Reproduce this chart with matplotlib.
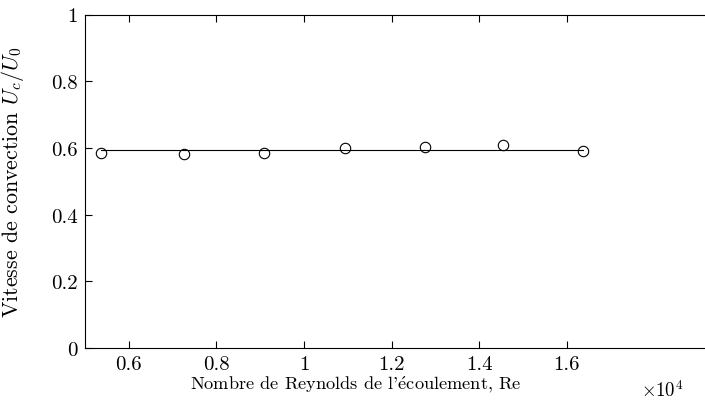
#vitesse de convection en fonction du nombre de Reynolds
import matplotlib
matplotlib.use("Agg")
import matplotlib.pyplot as plt
from matplotlib.ticker import FuncFormatter

plt.rcParams['font.family'] = ['cmr10', 'DejaVu Serif']
plt.rcParams['mathtext.fontset'] = 'cm'
plt.rcParams['axes.unicode_minus'] = False

# Reynolds (x 1e4) et vitesse de convection Uc/U0
reynolds = [0.536, 0.726, 0.909, 1.093, 1.277, 1.454, 1.637]
uc_u0 = [0.584, 0.581, 0.585, 0.601, 0.603, 0.609, 0.590]
uc_mean = sum(uc_u0) / len(uc_u0)

xticks = [0.6, 0.8, 1.0, 1.2, 1.4, 1.6]
yticks = [0, 0.2, 0.4, 0.6, 0.8, 1.0]


def fmt(v, pos):
    return "%g" % round(v, 3)


fig = plt.figure(figsize=(7.05, 4.02), dpi=100)
ax = fig.add_axes([0.1206, 0.1318, 0.885, 0.8296])

# ligne moyenne + mesures
ax.plot([reynolds[0], reynolds[-1]], [uc_mean, uc_mean], color='black', lw=0.8)
ax.plot(reynolds, uc_u0, 'o', mfc='none', mec='black', ms=7.5, mew=0.8)

ax.set_xlim(0.5, 0.5 + 624 / 438)
ax.set_ylim(0, 1)
ax.set_xticks(xticks)
ax.set_yticks(yticks)
ax.xaxis.set_major_formatter(FuncFormatter(fmt))
ax.yaxis.set_major_formatter(FuncFormatter(fmt))
ax.tick_params(direction='in', length=5, width=0.8, top=True, right=False,
               labelsize=15, pad=5)
for s in ax.spines.values():
    s.set_linewidth(0.8)
ax.spines['right'].set_visible(False)

ax.set_xlabel("Nombre de Reynolds de l'$\\acute{\\mathrm{e}}$coulement, Re", fontsize=13.2)
ax.xaxis.set_label_coords(0.434, -0.076)
ax.set_ylabel("Vitesse de convection $U_c/U_0$", fontsize=15.8)
ax.yaxis.set_label_coords(-0.095, 0.5)
fig.text(641 / 705, 1 - 397 / 402, r"$\times 10^4$", fontsize=13.5, va='baseline')

fig.savefig("out.png", dpi=100)
